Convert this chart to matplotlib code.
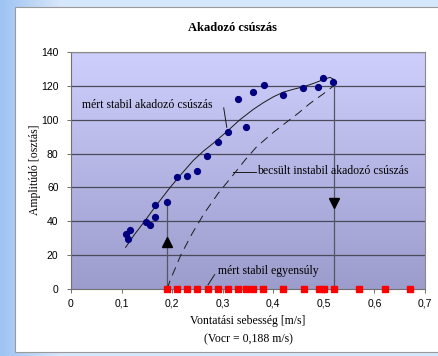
import numpy as np
import matplotlib
matplotlib.use("Agg")
import matplotlib.pyplot as plt
from matplotlib.patches import Rectangle
from matplotlib.colors import LinearSegmentedColormap

# ---- data ----
stable_x = [0.108, 0.117, 0.113, 0.148, 0.157, 0.166, 0.167, 0.190, 0.210, 0.230,
            0.250, 0.269, 0.290, 0.310, 0.330, 0.346, 0.360, 0.381, 0.420, 0.459,
            0.489, 0.499, 0.518]
stable_y = [32.4, 34.8, 29.5, 39.5, 37.8, 42.8, 49.6, 51.5, 65.9, 66.8,
            70.0, 78.8, 86.9, 92.8, 112.0, 95.7, 116.2, 120.3, 114.4, 118.6,
            119.3, 124.6, 122.5]

equil_x = [0.19, 0.21, 0.23, 0.25, 0.27, 0.29, 0.31, 0.33, 0.346, 0.36,
           0.38, 0.42, 0.46, 0.49, 0.50, 0.52, 0.57, 0.62, 0.67]
equil_y = [0] * len(equil_x)

trend_x = [0.108, 0.125, 0.143, 0.165, 0.196, 0.22, 0.242, 0.262, 0.281, 0.31,
           0.334, 0.36, 0.38, 0.40, 0.42, 0.44, 0.46, 0.48, 0.50, 0.512, 0.52]
trend_y = [24.6, 32.0, 39.0, 48.0, 60.0, 68.5, 76.0, 81.5, 86.0, 93.5,
           100.0, 106.0, 110.0, 113.5, 116.3, 118.0, 119.5, 121.5, 123.8, 125.0, 123.8]

unstab_x = [0.190, 0.196, 0.217, 0.240, 0.263, 0.291, 0.321, 0.345, 0.367, 0.40,
            0.426, 0.45, 0.472, 0.50, 0.53]
unstab_y = [0.0, 5.0, 20.0, 33.0, 44.5, 56.5, 67.5, 76.5, 84.0, 92.5,
            98.5, 104.0, 109.5, 115.5, 122.5]

vcr = 0.19
jump_x = 0.52
xticks = [0, 0.1, 0.2, 0.3, 0.4, 0.5, 0.6, 0.7]
xtick_labels = ["0", "0,1", "0,2", "0,3", "0,4", "0,5", "0,6", "0,7"]
yticks = [0, 20, 40, 60, 80, 100, 120, 140]

serif = "Liberation Serif"
sans = "Liberation Sans"

W, H = 438, 356
fig = plt.figure(figsize=(W / 100, H / 100), dpi=100)

# background (slide) with blue gradient on the left
bg = fig.add_axes([0, 0, 1, 1], zorder=-10)
bg.set_xlim(0, W)
bg.set_ylim(H, 0)
bg.axis("off")
grad = np.linspace(0, 1, 64)[None, :]
cm_bg = LinearSegmentedColormap.from_list("bg", ["#9ec3f2", "#d6e6fb"])
bg.imshow(grad, cmap=cm_bg, extent=[0, 60, H, 0], aspect="auto")
bg.add_patch(Rectangle((60, 0), W - 60, H, color="#d6e6fb", lw=0))
bg.add_patch(Rectangle((15, 7), W - 14, 345, facecolor="white",
                       edgecolor="#9a9a9a", lw=0.8))

# plot area
L, R, T, B = 71, 425, 52, 289
ax = fig.add_axes([L / W, 1 - B / H, (R - L) / W, (B - T) / H])
ax.set_xlim(0, 0.7)
ax.set_ylim(0, 140)
cm_pa = LinearSegmentedColormap.from_list("pa", ["#9c9ccd", "#cfcffd"])
ax.imshow(np.linspace(0, 1, 128)[:, None], cmap=cm_pa, origin="lower",
          extent=[0, 0.7, 0, 140], aspect="auto", zorder=0)

for yv in yticks[1:]:
    ax.axhline(yv, color="#4a4a5a", lw=0.9, zorder=1)

for s in ["top", "right"]:
    ax.spines[s].set_color("#8a8a8a")
    ax.spines[s].set_linewidth(0.8)
for s in ["left", "bottom"]:
    ax.spines[s].set_color("#707070")
    ax.spines[s].set_linewidth(0.8)

ax.set_xticks(xticks)
ax.set_xticklabels(xtick_labels, fontfamily=sans, fontsize=7.5)
ax.set_yticks(yticks)
ax.set_yticklabels([str(v) for v in yticks], fontfamily=sans, fontsize=7.5)
ax.tick_params(axis="both", direction="out", length=3, width=0.7,
               color="#707070")
ax.tick_params(axis="x", pad=4)
ax.tick_params(axis="y", pad=6)

# vertical jump lines with arrows
ax.plot([vcr, vcr], [0, 51.5], color="#555566", lw=0.9, zorder=2)
ax.plot([jump_x, jump_x], [0, 122.5], color="#555566", lw=0.9, zorder=2)
ax.plot([vcr], [27.5], marker="^", color="black", markersize=6.5, zorder=3)
ax.plot([jump_x], [51], marker="v", color="black", markersize=6.5, zorder=3)

# curves
ax.plot(trend_x, trend_y, color="#1a1a1a", lw=0.7, zorder=3)
ax.plot(unstab_x, unstab_y, color="#1a1a1a", lw=0.7, dashes=(9, 6), zorder=3)

# markers
ax.plot(stable_x, stable_y, "o", color="#000080", markersize=4.2, zorder=4)
ax.plot(equil_x, equil_y, "s", color="#ff0000", markersize=3.8, zorder=4,
        clip_on=False)

# annotations
ax.text(0.022, 108.5, "mért stabil akadozó csúszás", fontfamily=serif,
        fontsize=8.5, va="center", ha="left", zorder=5)
ax.plot([0.302, 0.308], [107, 95.5], color="#1a1a1a", lw=0.7, zorder=5)

ax.text(0.368, 69.5, "becsült instabil akadozó csúszás", fontfamily=serif,
        fontsize=8.5, va="center", ha="left", zorder=5)
ax.plot([0.321, 0.366], [69, 69], color="#1a1a1a", lw=0.7, zorder=5)

ax.text(0.29, 10.5, "mért stabil egyensúly", fontfamily=serif,
        fontsize=8.5, va="center", ha="left", zorder=5)
ax.plot([0.284, 0.271], [8.5, 2.5], color="#1a1a1a", lw=0.7, zorder=5)

fig.text(35 / W, 1 - 170 / H, "Amplitúdó [osztás]", fontfamily=serif,
         fontsize=8.5, rotation=90, ha="center", va="center")

fig.text(232 / W, 1 - 28 / H, "Akadozó csúszás", fontfamily=serif,
         fontsize=9, fontweight="bold", ha="center", va="center")
fig.text(248 / W, 1 - 321 / H, "Vontatási sebesség [m/s]", fontfamily=serif,
         fontsize=8.5, ha="center", va="center")
fig.text(248 / W, 1 - 339 / H, "(Vocr = 0,188 m/s)", fontfamily=serif,
         fontsize=8.5, ha="center", va="center")

fig.savefig("out.png", dpi=100)
